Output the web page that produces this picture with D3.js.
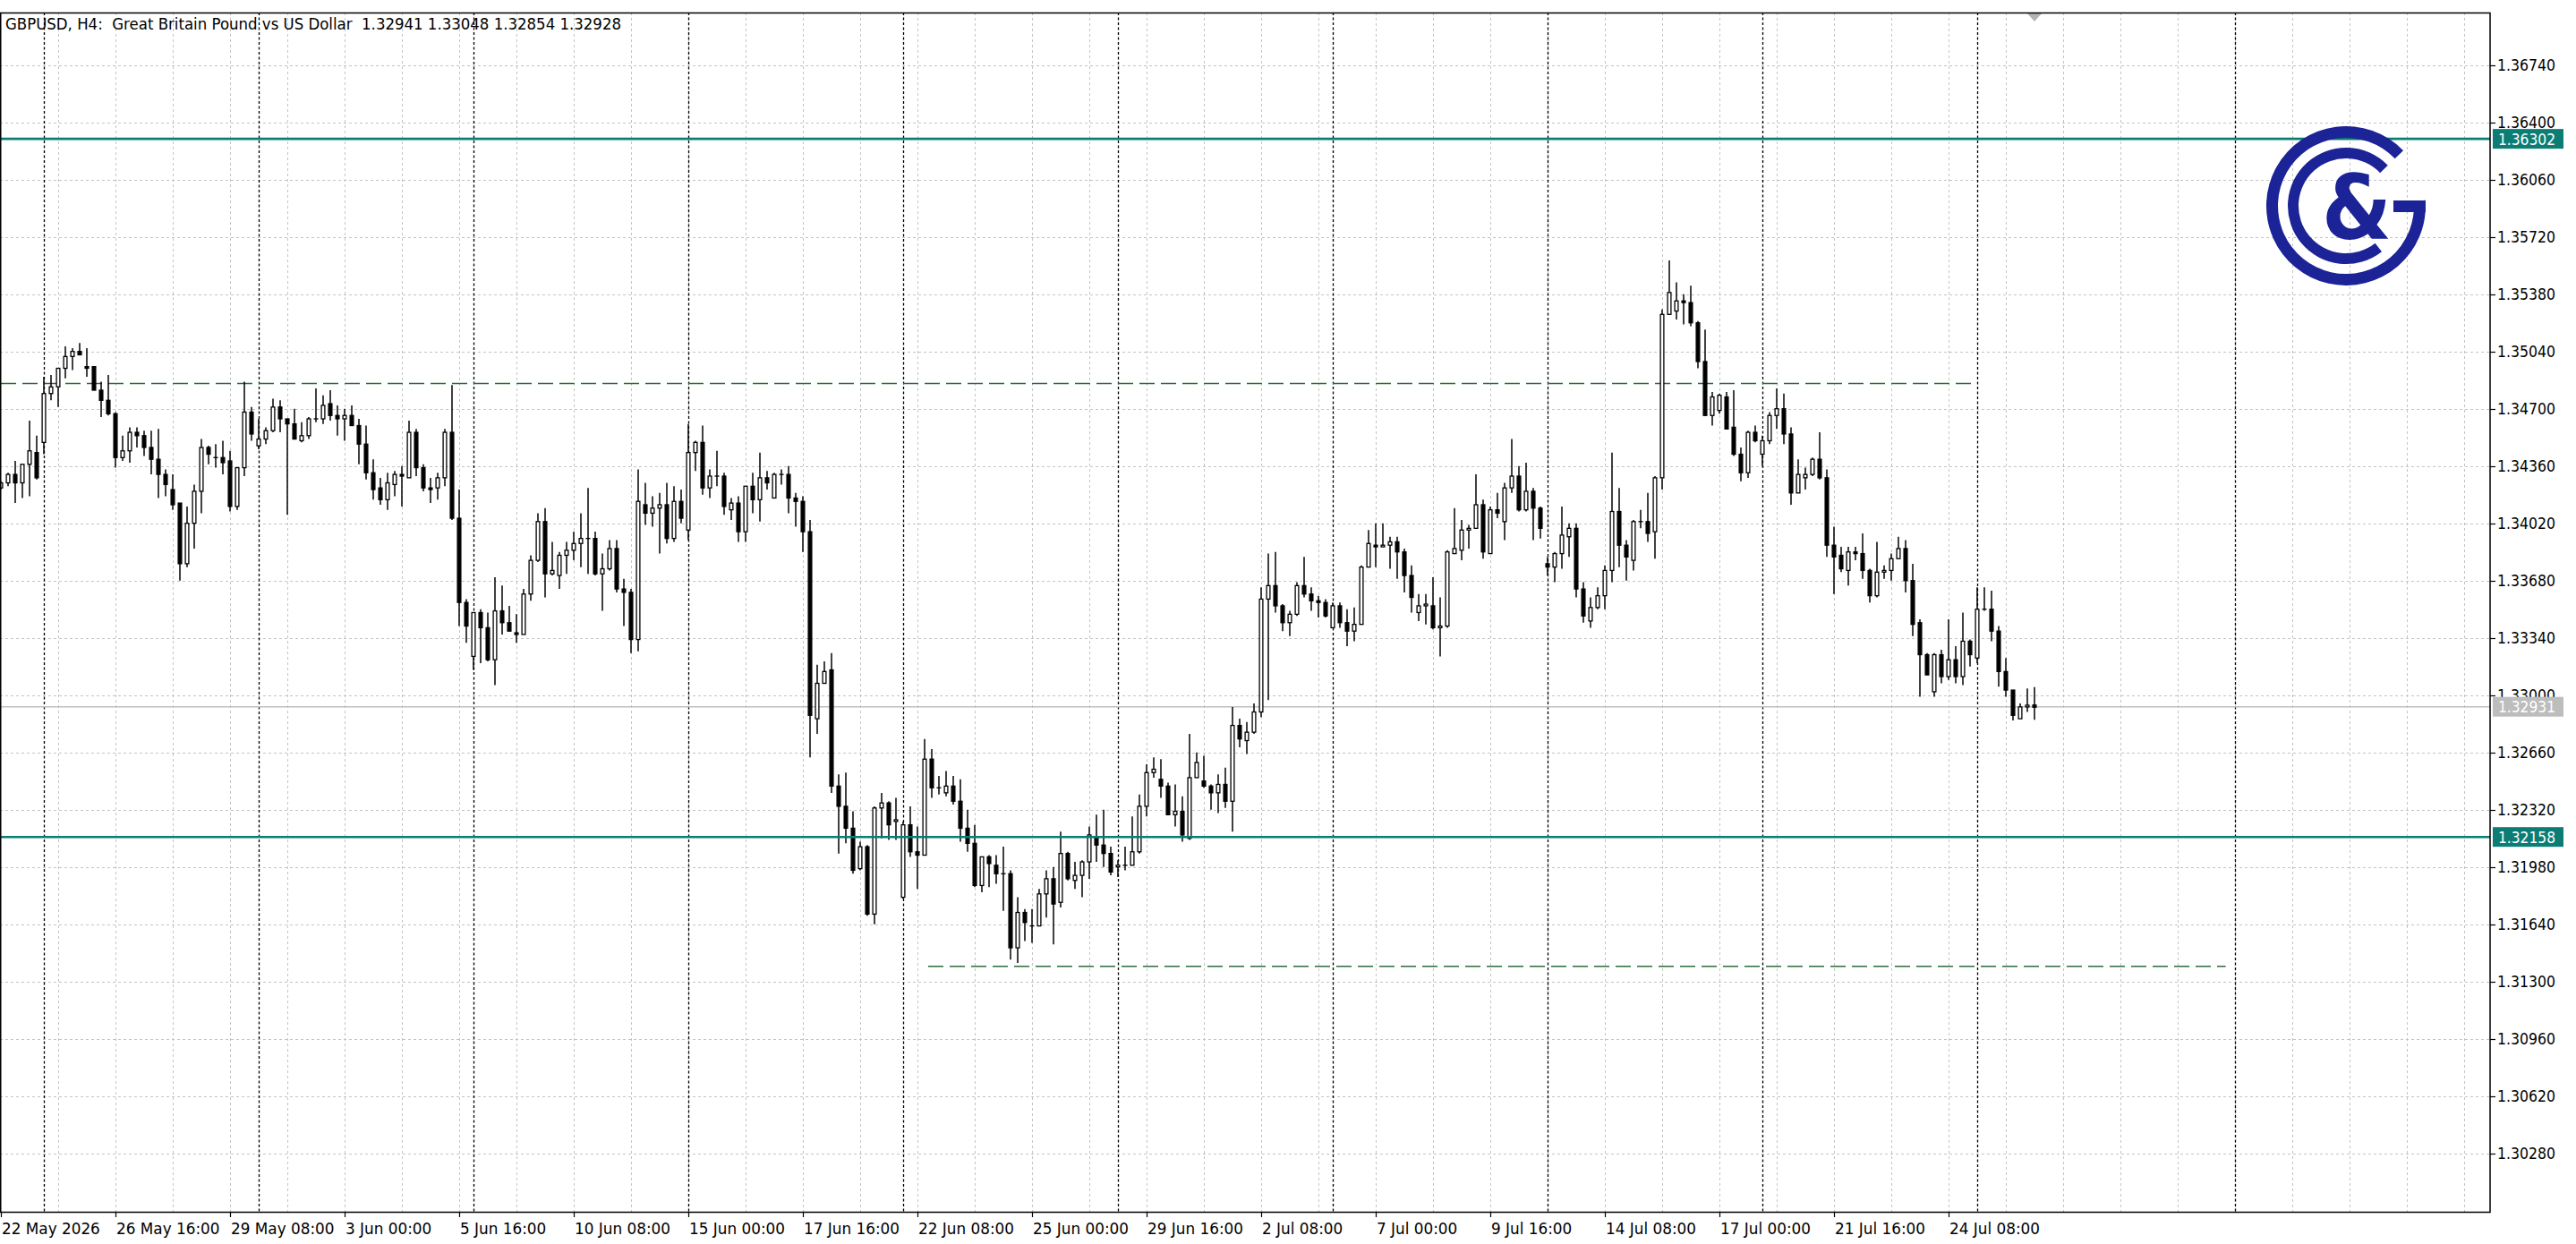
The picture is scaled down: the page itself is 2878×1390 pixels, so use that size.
<!DOCTYPE html>
<html><head><meta charset="utf-8">
<script src="https://cdn.jsdelivr.net/npm/d3@7"></script>
<style>html,body{margin:0;padding:0;background:#fff;overflow:hidden}svg{display:block}</style>
</head><body>
<svg id="c" width="2878" height="1390"></svg>
<script>
// ---------- DATA ----------
const opens=[1.3423,1.3426,1.3431,1.3426,1.3437,1.3444,1.3450,1.3479,1.3483,1.3494,1.3501,1.3504,1.3495,1.3495,1.3481,1.3475,1.3467,1.3441,1.3445,1.3456,1.3454,1.3447,1.3440,1.3431,1.3422,1.3414,1.3378,1.3402,1.3421,1.3447,1.3441,1.3441,1.3439,1.3412,1.3435,1.3468,1.3448,1.3452,1.3457,1.3471,1.3464,1.3461,1.3451,1.3454,1.3464,1.3464,1.3473,1.3466,1.3464,1.3466,1.3460,1.3449,1.3432,1.3423,1.3416,1.3425,1.3431,1.3429,1.3456,1.3435,1.3423,1.3423,1.3429,1.3456,1.3405,1.3355,1.3323,1.3349,1.3340,1.3321,1.3350,1.3343,1.3337,1.3336,1.3360,1.3380,1.3403,1.3372,1.3371,1.3383,1.3386,1.3390,1.3393,1.3393,1.3372,1.3375,1.3387,1.3363,1.3361,1.3333,1.3413,1.3408,1.3411,1.3413,1.3393,1.3415,1.3398,1.3444,1.3450,1.3423,1.3430,1.3430,1.3410,1.3414,1.3397,1.3424,1.3416,1.3429,1.3417,1.3431,1.3431,1.3417,1.3415,1.3397,1.3286,1.3307,1.3315,1.3246,1.3234,1.3221,1.3197,1.3210,1.3170,1.3233,1.3236,1.3225,1.3180,1.3223,1.3207,1.3205,1.3262,1.3245,1.3242,1.3246,1.3237,1.3221,1.3212,1.3187,1.3204,1.3199,1.3194,1.3194,1.3150,1.3171,1.3163,1.3163,1.3182,1.3191,1.3177,1.3206,1.3190,1.3193,1.3201,1.3215,1.3211,1.3206,1.3198,1.3199,1.3199,1.3207,1.3234,1.3254,1.3250,1.3246,1.3229,1.3231,1.3215,1.3251,1.3249,1.3246,1.3242,1.3247,1.3237,1.3282,1.3273,1.3278,1.3290,1.3357,1.3365,1.3353,1.3343,1.3348,1.3365,1.3360,1.3356,1.3355,1.3340,1.3353,1.3343,1.3338,1.3342,1.3376,1.3389,1.3388,1.3389,1.3391,1.3385,1.3371,1.3349,1.3353,1.3353,1.3340,1.3341,1.3384,1.3386,1.3398,1.3399,1.3413,1.3384,1.3410,1.3403,1.3423,1.3430,1.3410,1.3421,1.3411,1.3378,1.3376,1.3384,1.3394,1.3399,1.3363,1.3344,1.3352,1.3359,1.3374,1.3409,1.3389,1.3380,1.3403,1.3403,1.3397,1.3429,1.3526,1.3528,1.3534,1.3533,1.3521,1.3498,1.3466,1.3469,1.3477,1.3459,1.3443,1.3432,1.3456,1.3443,1.3451,1.3466,1.3470,1.3455,1.3420,1.3429,1.3431,1.3440,1.3429,1.3389,1.3383,1.3374,1.3385,1.3384,1.3374,1.3359,1.3373,1.3374,1.3381,1.3387,1.3368,1.3343,1.3324,1.3302,1.3324,1.3311,1.3321,1.3311,1.3332,1.3322,1.3351,1.3351,1.3338,1.3314,1.3303,1.3286,1.3293,1.32941];
const highs=[1.3427,1.3432,1.3439,1.3437,1.3463,1.3454,1.3489,1.3490,1.3494,1.3507,1.3506,1.3509,1.3506,1.3495,1.3486,1.3490,1.3468,1.3454,1.3459,1.3459,1.3457,1.3457,1.3458,1.3434,1.3431,1.3414,1.3412,1.3425,1.3452,1.3448,1.3449,1.3451,1.3445,1.3435,1.3486,1.3471,1.3464,1.3459,1.3476,1.3475,1.3464,1.3470,1.3462,1.3465,1.3482,1.3478,1.3481,1.3472,1.3470,1.3472,1.3464,1.3460,1.3440,1.3429,1.3432,1.3433,1.3436,1.3463,1.3458,1.3437,1.3429,1.3432,1.3458,1.3484,1.3422,1.3357,1.3349,1.3351,1.3349,1.3370,1.3365,1.3353,1.3348,1.3363,1.3383,1.3408,1.3411,1.3391,1.3385,1.3391,1.3397,1.3408,1.3423,1.3397,1.3384,1.3392,1.3392,1.3369,1.3363,1.3434,1.3426,1.3418,1.3420,1.3426,1.3424,1.3422,1.3461,1.3451,1.3460,1.3434,1.3445,1.3432,1.3417,1.3418,1.3424,1.3432,1.3444,1.3433,1.3432,1.3434,1.3436,1.3420,1.3418,1.3404,1.3318,1.3320,1.3325,1.3253,1.3254,1.3231,1.3213,1.3211,1.3234,1.3242,1.3237,1.3239,1.3225,1.3234,1.3222,1.3274,1.3268,1.3252,1.3255,1.3252,1.3250,1.3232,1.3223,1.3204,1.3205,1.3205,1.3210,1.3196,1.3180,1.3173,1.3173,1.3185,1.3196,1.3198,1.3219,1.3207,1.3201,1.3202,1.3222,1.3229,1.3232,1.3210,1.3202,1.3210,1.3228,1.3241,1.3259,1.3263,1.3262,1.3248,1.3247,1.3240,1.3277,1.3266,1.3264,1.3247,1.3253,1.3257,1.3293,1.3286,1.3284,1.3295,1.3364,1.3384,1.3385,1.3354,1.3350,1.3367,1.3382,1.3364,1.3359,1.3357,1.3355,1.3355,1.3351,1.3352,1.3377,1.3398,1.3402,1.3402,1.3394,1.3394,1.3387,1.3377,1.3360,1.3360,1.3370,1.3358,1.3386,1.3411,1.3404,1.3401,1.3431,1.3416,1.3412,1.3420,1.3426,1.3452,1.3436,1.3438,1.3423,1.3412,1.3382,1.3385,1.3412,1.3402,1.3402,1.3367,1.3358,1.3364,1.3377,1.3444,1.3423,1.3392,1.3404,1.3410,1.3420,1.3430,1.3529,1.3558,1.3545,1.3538,1.3543,1.3522,1.3517,1.3480,1.3479,1.3480,1.3481,1.3447,1.3457,1.3460,1.3454,1.3468,1.3482,1.3479,1.3459,1.3440,1.3435,1.3441,1.3456,1.3434,1.3400,1.3388,1.3388,1.3388,1.3396,1.3375,1.3391,1.3377,1.3384,1.3394,1.3392,1.3378,1.3345,1.3325,1.3325,1.3327,1.3345,1.3329,1.3349,1.3333,1.3364,1.3364,1.3362,1.3341,1.3322,1.3303,1.3295,1.3304,1.33048];
const lows=[1.3422,1.3424,1.3414,1.3417,1.3418,1.3428,1.3443,1.3475,1.3471,1.3488,1.3493,1.3502,1.3489,1.3481,1.3465,1.3466,1.3435,1.3439,1.3438,1.3447,1.3442,1.3431,1.3417,1.3418,1.3410,1.3368,1.3376,1.3387,1.3408,1.3437,1.3435,1.3431,1.3409,1.3410,1.3430,1.3451,1.3446,1.3449,1.3456,1.3456,1.3407,1.3452,1.3450,1.3452,1.3462,1.3461,1.3463,1.3454,1.3451,1.3460,1.3437,1.3428,1.3416,1.3413,1.3410,1.3418,1.3412,1.3429,1.3430,1.3421,1.3414,1.3416,1.3424,1.3404,1.3341,1.3331,1.3315,1.3319,1.3320,1.3306,1.3336,1.3338,1.3331,1.3336,1.3356,1.3379,1.3358,1.3371,1.3363,1.3372,1.3380,1.3376,1.3372,1.3371,1.3350,1.3374,1.3361,1.3341,1.3325,1.3326,1.3401,1.3400,1.3384,1.3390,1.3391,1.3402,1.3392,1.3433,1.3419,1.3417,1.3424,1.3407,1.3404,1.3391,1.3391,1.3408,1.3403,1.3422,1.3417,1.3425,1.3408,1.3400,1.3385,1.3263,1.3277,1.3307,1.3242,1.3206,1.3212,1.3194,1.3196,1.3169,1.3164,1.3215,1.3214,1.3214,1.3179,1.3204,1.3185,1.3205,1.3239,1.3241,1.3240,1.3235,1.3213,1.3207,1.3186,1.3183,1.3186,1.3188,1.3172,1.3143,1.3141,1.3154,1.3153,1.3163,1.3168,1.3152,1.3174,1.3190,1.3185,1.3180,1.3191,1.3201,1.3198,1.3193,1.3192,1.3196,1.3199,1.3206,1.3228,1.3251,1.3239,1.3229,1.3222,1.3213,1.3214,1.3251,1.3245,1.3232,1.3230,1.3233,1.3219,1.3269,1.3265,1.3277,1.3287,1.3297,1.3349,1.3338,1.3335,1.3347,1.3358,1.3350,1.3346,1.3346,1.3340,1.3340,1.3329,1.3332,1.3342,1.3376,1.3376,1.3388,1.3375,1.3369,1.3361,1.3349,1.3344,1.3342,1.3339,1.3323,1.3340,1.3384,1.3380,1.3387,1.3399,1.3381,1.3384,1.3405,1.3392,1.3420,1.3409,1.3409,1.3392,1.3393,1.3371,1.3367,1.3375,1.3382,1.3358,1.3343,1.3340,1.3351,1.3351,1.3367,1.3376,1.3368,1.3374,1.3399,1.3391,1.3381,1.3422,1.3526,1.3523,1.3520,1.3519,1.3494,1.3466,1.3460,1.3467,1.3458,1.3442,1.3427,1.3429,1.3450,1.3436,1.3449,1.3458,1.3449,1.3413,1.3420,1.3422,1.3430,1.3428,1.3382,1.3360,1.3373,1.3365,1.3380,1.3369,1.3355,1.3358,1.3369,1.3368,1.3381,1.3361,1.3335,1.3299,1.3312,1.3299,1.3307,1.3309,1.3307,1.3306,1.3317,1.3319,1.3350,1.3332,1.3305,1.3299,1.3285,1.3286,1.3290,1.32854];
const closes=[1.3426,1.3431,1.3426,1.3437,1.3445,1.3429,1.3479,1.3483,1.3494,1.3501,1.3504,1.3502,1.3494,1.3481,1.3475,1.3467,1.3441,1.3445,1.3456,1.3454,1.3447,1.3440,1.3431,1.3425,1.3413,1.3378,1.3402,1.3421,1.3447,1.3443,1.3441,1.3438,1.3412,1.3435,1.3468,1.3455,1.3452,1.3457,1.3471,1.3464,1.3461,1.3452,1.3454,1.3464,1.3464,1.3472,1.3466,1.3464,1.3466,1.3460,1.3449,1.3432,1.3422,1.3416,1.3426,1.3431,1.3430,1.3456,1.3435,1.3423,1.3422,1.3429,1.3456,1.3405,1.3355,1.3341,1.3349,1.3340,1.3321,1.3350,1.3343,1.3338,1.3336,1.3360,1.3380,1.3403,1.3372,1.3374,1.3383,1.3386,1.3390,1.3393,1.3393,1.3372,1.3375,1.3387,1.3363,1.3361,1.3333,1.3415,1.3408,1.3411,1.3413,1.3393,1.3415,1.3405,1.3444,1.3450,1.3423,1.3430,1.3430,1.3412,1.3414,1.3397,1.3424,1.3416,1.3429,1.3426,1.3431,1.3431,1.3417,1.3415,1.3397,1.3288,1.3307,1.3314,1.3246,1.3234,1.3221,1.3196,1.3210,1.3170,1.3233,1.3236,1.3223,1.3226,1.3223,1.3207,1.3205,1.3262,1.3245,1.3245,1.3246,1.3237,1.3221,1.3212,1.3187,1.3204,1.3200,1.3194,1.3194,1.3150,1.3171,1.3165,1.3163,1.3182,1.3191,1.3176,1.3206,1.3191,1.3193,1.3201,1.3217,1.3211,1.3206,1.3195,1.3199,1.3199,1.3207,1.3234,1.3254,1.3256,1.3246,1.3229,1.3231,1.3217,1.3251,1.3260,1.3246,1.3242,1.3247,1.3237,1.3282,1.3274,1.3278,1.3290,1.3357,1.3365,1.3353,1.3343,1.3348,1.3365,1.3360,1.3356,1.3355,1.3347,1.3353,1.3343,1.3338,1.3342,1.3376,1.3390,1.3388,1.3389,1.3391,1.3385,1.3371,1.3358,1.3353,1.3354,1.3340,1.3341,1.3385,1.3387,1.3398,1.3399,1.3413,1.3385,1.3410,1.3408,1.3423,1.3430,1.3410,1.3421,1.3411,1.3399,1.3376,1.3384,1.3395,1.3399,1.3363,1.3347,1.3352,1.3359,1.3374,1.3409,1.3389,1.3382,1.3403,1.3403,1.3396,1.3429,1.3526,1.3539,1.3534,1.3533,1.3521,1.3498,1.3466,1.3477,1.3478,1.3458,1.3443,1.3432,1.3456,1.3451,1.3451,1.3466,1.3470,1.3455,1.3420,1.3431,1.3431,1.3440,1.3429,1.3389,1.3382,1.3375,1.3385,1.3384,1.3374,1.3359,1.3373,1.3374,1.3381,1.3387,1.3368,1.3342,1.3324,1.3312,1.3324,1.3311,1.3321,1.3311,1.3332,1.3324,1.3351,1.3351,1.3338,1.3314,1.3303,1.3288,1.3293,1.3294,1.32928];

const priceTicks=[1.36740,1.36400,1.36060,1.35720,1.35380,1.35040,1.34700,1.34360,1.34020,1.33680,1.33340,1.33000,1.32660,1.32320,1.31980,1.31640,1.31300,1.30960,1.30620,1.30280];
const timeLabels=["22 May 2026","26 May 16:00","29 May 08:00","3 Jun 00:00","5 Jun 16:00","10 Jun 08:00","15 Jun 00:00","17 Jun 16:00","22 Jun 08:00","25 Jun 00:00","29 Jun 16:00","2 Jul 08:00","7 Jul 00:00","9 Jul 16:00","14 Jul 08:00","17 Jul 00:00","21 Jul 16:00","24 Jul 08:00"];
const timeLabelBars=[0,16,32,48,64,80,96,112,128,144,160,176,192,208,224,240,256,272];
const weekSeparatorBars=[6,36,66,96,126,156,186,216,246,276,312];
const levelPrices=[1.36302,1.32158];
const bidPrice=1.32931;
const trendLevelPrices=[1.3485,1.3139];
const trendLevelFromBar=[0,129.5];
const trendLevelToBar=[275.7,310.7];
const titleText="GBPUSD, H4:  Great Britain Pound vs US Dollar  1.32941 1.33048 1.32854 1.32928";

// ---------- LAYOUT ----------
const L=0, T=14, R=2782, B=1354;
const FONT="'DejaVu Sans', Tahoma, Verdana, sans-serif";
const svg=d3.select("#c");
const x=d3.scaleLinear().domain([0,272]).range([1,2177]);
const y=d3.scaleLinear().domain([1.30280,1.36740]).range([1288.7,72.7]);
const fmt=d3.format(".5f");

svg.append("rect").attr("width",2878).attr("height",1390).attr("fill","#fff");

const plot=svg.append("g");
// horizontal grid
plot.selectAll("line.hg").data(priceTicks).join("line")
  .attr("x1",L).attr("x2",R).attr("y1",d=>Math.round(y(d))+0.5).attr("y2",d=>Math.round(y(d))+0.5)
  .attr("stroke","#c4c4c4").attr("stroke-width",1).attr("stroke-dasharray","3,3");
// vertical grid every 8 bars
const vgrid=d3.range(8,348,8);
plot.selectAll("line.vg").data(vgrid).join("line")
  .attr("x1",d=>Math.round(x(d))+0.5).attr("x2",d=>Math.round(x(d))+0.5).attr("y1",T).attr("y2",B)
  .attr("stroke","#c4c4c4").attr("stroke-width",1).attr("stroke-dasharray","3,3");
// week separators
plot.selectAll("line.ws").data(weekSeparatorBars).join("line")
  .attr("x1",d=>Math.round(x(d))+0.5).attr("x2",d=>Math.round(x(d))+0.5).attr("y1",T).attr("y2",B)
  .attr("stroke","#000").attr("stroke-width",1.3).attr("stroke-dasharray","3,2.5");
// bid line
plot.append("line").attr("x1",L).attr("x2",R).attr("y1",y(bidPrice)).attr("y2",y(bidPrice))
  .attr("stroke","#c0c0c0").attr("stroke-width",1.5);
// trend dashed levels
plot.selectAll("line.tl").data(trendLevelPrices).join("line")
  .attr("x1",(d,i)=>x(trendLevelFromBar[i])).attr("x2",(d,i)=>x(trendLevelToBar[i]))
  .attr("y1",d=>y(d)).attr("y2",d=>y(d))
  .attr("stroke","#2f6b38").attr("stroke-width",1.4).attr("stroke-dasharray","17,7");

// candles
const bars=d3.range(opens.length);
const cg=plot.append("g");
cg.selectAll("line.wick").data(bars).join("line")
  .attr("x1",i=>x(i)).attr("x2",i=>x(i)).attr("y1",i=>y(highs[i])).attr("y2",i=>y(lows[i]))
  .attr("stroke","#000").attr("stroke-width",1.5);
cg.selectAll("rect.body").data(bars).join("rect")
  .attr("x",i=>x(i)-1.9).attr("width",3.8)
  .attr("y",i=>y(Math.max(opens[i],closes[i])))
  .attr("height",i=>Math.max(0.01,Math.abs(y(opens[i])-y(closes[i]))))
  .attr("fill",i=>closes[i]>=opens[i]?"#fff":"#000")
  .attr("stroke","#000").attr("stroke-width",1.3);

// teal levels
plot.selectAll("line.lv").data(levelPrices).join("line")
  .attr("x1",L).attr("x2",R).attr("y1",d=>y(d)).attr("y2",d=>y(d))
  .attr("stroke","#0b7d75").attr("stroke-width",2.6);

// shift marker triangle
svg.append("path").attr("d",`M${x(284)-8},${T+1}L${x(284)+8},${T+1}L${x(284)},${T+10}Z`).attr("fill","#b4b4b4");

// logo
const lg=svg.append("g").attr("transform","translate(2621,230)").attr("fill","#1b2396");
const deg=Math.PI/180;
lg.append("path").attr("d",d3.arc()({innerRadius:76,outerRadius:89,startAngle:86*deg,endAngle:406*deg}));
lg.append("rect").attr("x",53).attr("y",-6).attr("width",36).attr("height",13);
lg.append("path").attr("d",d3.arc()({innerRadius:53,outerRadius:65,startAngle:142*deg,endAngle:406*deg}));
lg.append("text").attr("x",12).attr("y",37).attr("text-anchor","middle")
  .attr("font-family","'DejaVu Sans', sans-serif").attr("font-weight","bold").attr("font-size",100)
  .attr("textLength",78).attr("lengthAdjust","spacingAndGlyphs")
  .text("&");

// frame
svg.append("rect").attr("x",L+0.75).attr("y",T+0.5).attr("width",R-L-0.75).attr("height",B-T)
  .attr("fill","none").attr("stroke","#000").attr("stroke-width",1.5);

// title
svg.append("text").attr("x",6).attr("y",33).attr("font-family",FONT).attr("font-size",17)
  .attr("xml:space","preserve").style("white-space","pre")
  .attr("fill","#000").attr("textLength",688).attr("lengthAdjust","spacingAndGlyphs").text(titleText);

// right axis
const ra=svg.append("g");
ra.selectAll("line.rt").data(priceTicks).join("line")
  .attr("x1",R).attr("x2",R+6).attr("y1",d=>Math.round(y(d))+0.5).attr("y2",d=>Math.round(y(d))+0.5)
  .attr("stroke","#000").attr("stroke-width",1.2);
ra.selectAll("text.rl").data(priceTicks).join("text")
  .attr("x",R+8).attr("y",d=>y(d)+6.5).attr("font-family",FONT).attr("font-size",18)
  .attr("textLength",65).attr("lengthAdjust","spacingAndGlyphs").attr("fill","#000").text(d=>fmt(d));

// level boxes
const boxes=[{p:levelPrices[0],c:"#0b7d75"},{p:levelPrices[1],c:"#0b7d75"},{p:bidPrice,c:"#bdbdbd"}];
const bx=ra.selectAll("g.box").data(boxes).join("g");
bx.append("rect").attr("x",R+3).attr("y",d=>y(d.p)-11).attr("width",79).attr("height",22).attr("fill",d=>d.c);
bx.append("text").attr("x",R+9).attr("y",d=>y(d.p)+6.5).attr("font-family",FONT).attr("font-size",18)
  .attr("textLength",64).attr("lengthAdjust","spacingAndGlyphs").attr("fill","#fff").text(d=>fmt(d.p));

// bottom axis
const ba=svg.append("g");
ba.selectAll("line.bt").data(timeLabelBars).join("line")
  .attr("x1",d=>Math.round(x(d))+0.5).attr("x2",d=>Math.round(x(d))+0.5).attr("y1",B).attr("y2",B+6)
  .attr("stroke","#000").attr("stroke-width",1.2);
const bl=ba.selectAll("text.bl").data(timeLabels).join("text")
  .attr("x",(d,i)=>Math.max(1,x(timeLabelBars[i])+1)).attr("y",B+25)
  .attr("font-family",FONT).attr("font-size",18).attr("fill","#000").text(d=>d);
const refNode=bl.nodes()[bl.size()-1];
const ratio=101/refNode.getComputedTextLength();
bl.each(function(){const w=this.getComputedTextLength();this.setAttribute("textLength",w*ratio);this.setAttribute("lengthAdjust","spacingAndGlyphs");});
</script>
</body></html>
